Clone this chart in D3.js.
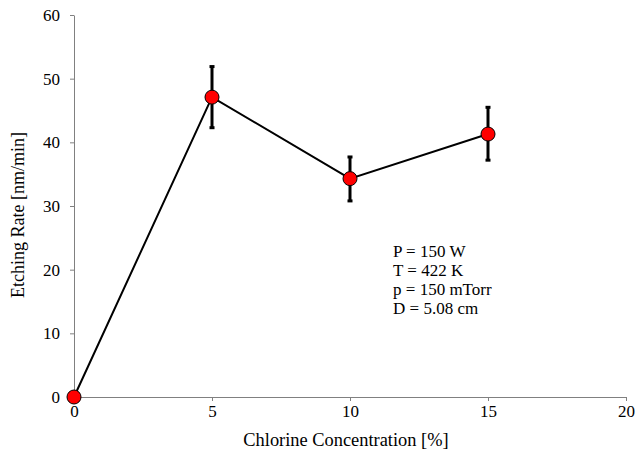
<!DOCTYPE html>
<html>
<head>
<meta charset="utf-8">
<script src="https://cdn.jsdelivr.net/npm/d3@7"></script>
<style>
  body { margin: 0; background: #fff; }
  svg text { font-family: "Liberation Serif", "Times New Roman", serif; fill: #000; }
</style>
</head>
<body>
<div id="chart"></div>
<script>
const concentration = [0, 5, 10, 15]
const etchRate = [0, 47.1, 34.3, 41.3]
const errLow = [0, 42.3, 30.8, 37.2]
const errHigh = [0, 51.9, 37.7, 45.5]
const xTicks = [0, 5, 10, 15, 20]
const yTicks = [0, 10, 20, 30, 40, 50, 60]
const notes = ["P = 150 W", "T = 422 K", "p = 150 mTorr", "D = 5.08 cm"]

const margin = { top: 15, right: 9, bottom: 59, left: 74 }
const width = 635 - margin.left - margin.right
const height = 456 - margin.top - margin.bottom

const x = d3.scaleLinear().domain([0, 20]).range([0, width])
const y = d3.scaleLinear().domain([0, 60]).range([height, 0])

const svg = d3.select('#chart').append('svg')
    .attr('width', 635)
    .attr('height', 456)
    .append('g')
    .attr('transform', 'translate(' + margin.left + ',' + margin.top + ')')

// axes
svg.append('g')
    .attr('transform', 'translate(0,' + height + ')')
    .call(d3.axisBottom(x).tickValues(xTicks).tickSize(4).tickSizeOuter(0).tickPadding(4))
svg.append('g')
    .call(d3.axisLeft(y).tickValues(yTicks).tickSize(4).tickSizeOuter(0).tickPadding(10))

svg.selectAll('.domain, .tick line').attr('stroke', '#808080')
svg.selectAll('.tick text').style('font-size', '17px').style('font-family', '"Liberation Serif", serif')

// axis labels
svg.append('text')
    .attr('x', 346 - margin.left)
    .attr('y', 446 - margin.top)
    .style('text-anchor', 'middle')
    .style('font-size', '18.4px')
    .text('Chlorine Concentration [%]')

svg.append('text')
    .attr('transform', 'translate(' + (24 - margin.left) + ',' + (215 - margin.top) + ') rotate(-90)')
    .style('text-anchor', 'middle')
    .style('font-size', '18px')
    .text('Etching Rate [nm/min]')

const pts = concentration.map((c, i) => ({ c: c, v: etchRate[i], lo: errLow[i], hi: errHigh[i] }))

// line
const line = d3.line().x(d => x(d.c)).y(d => y(d.v))
svg.append('path')
    .datum(pts)
    .attr('d', line)
    .attr('fill', 'none')
    .attr('stroke', '#000')
    .attr('stroke-width', 2)

// error bars
const bars = svg.selectAll('g.err').data(pts.filter(d => d.hi > d.lo)).join('g').attr('class', 'err')
bars.append('line')
    .attr('x1', d => x(d.c)).attr('x2', d => x(d.c))
    .attr('y1', d => y(d.lo)).attr('y2', d => y(d.hi))
    .attr('stroke', '#000').attr('stroke-width', 3)
bars.selectAll('rect').data(d => [[d.c, d.lo], [d.c, d.hi]]).join('rect')
    .attr('x', d => x(d[0]) - 2.5)
    .attr('y', d => y(d[1]) - 1.5)
    .attr('width', 5).attr('height', 3)
    .attr('fill', '#000')

// markers
svg.selectAll('circle.pt').data(pts).join('circle')
    .attr('class', 'pt')
    .attr('cx', d => x(d.c))
    .attr('cy', d => y(d.v))
    .attr('r', 7)
    .attr('fill', '#ff0000')
    .attr('stroke', '#000')
    .attr('stroke-width', 1)

// conditions
svg.append('text')
    .attr('x', x(11.56))
    .attr('y', y(22.0))
    .style('font-size', '17px')
    .selectAll('tspan').data(notes).join('tspan')
    .attr('x', x(11.56))
    .attr('dy', (d, i) => i === 0 ? 0 : 19)
    .text(d => d)
</script>
</body>
</html>
